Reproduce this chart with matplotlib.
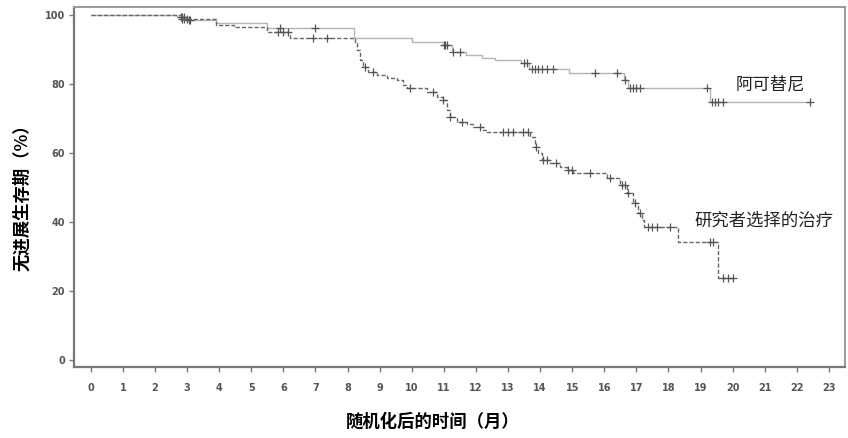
import numpy as np
import matplotlib.pyplot as plt

plt.rcParams['font.family'] = ['Noto Sans CJK SC', 'DejaVu Sans']

# 阿可替尼 - step times (months) and survival (%)
acala_t = [0, 2.7, 3.0, 3.9, 5.5, 8.2, 10.0, 11.0, 11.25, 11.7, 12.2, 12.6,
           13.4, 13.65, 14.9, 16.6, 16.75, 19.3, 22.4]
acala_s = [100, 99.3, 98.6, 97.6, 96.3, 93.3, 92.3, 91.3, 89.4, 88.4, 87.5, 87.0,
           86.1, 84.4, 83.1, 81.2, 78.8, 74.9, 74.9]
acala_cens = [2.8, 2.85, 2.9, 3.05, 3.1, 5.9, 7.0, 11.0, 11.05, 11.1, 11.3, 11.5,
              13.5, 13.6, 13.75, 13.85, 13.95, 14.05, 14.2, 14.4, 15.7, 16.4, 16.65,
              16.8, 16.9, 17.0, 17.1, 19.2, 19.35, 19.45, 19.55, 19.7, 22.4]

# 研究者选择的治疗
ctrl_t = [0, 2.8, 3.9, 4.45, 5.5, 6.2, 8.23, 8.29, 8.39, 8.48, 8.64, 8.92, 9.23,
          9.54, 9.73, 9.85, 10.48, 10.79, 10.97, 11.1, 11.19, 11.41, 11.72, 11.91,
          12.22, 12.35, 13.68, 13.84, 13.93, 14.06, 14.31, 14.62, 14.84, 15.03,
          16.08, 16.49, 16.7, 16.89, 17.05, 17.17, 17.25, 18.29, 19.54, 20.0]
ctrl_s = [100, 98.8, 97.1, 96.6, 95.2, 93.3, 92.0, 89.9, 87.0, 85.0, 83.5, 82.6, 81.7,
          81.2, 79.7, 78.8, 77.7, 76.2, 75.4, 72.5, 70.4, 69.0, 68.5, 67.5,
          66.7, 66.1, 64.6, 61.7, 60.0, 58.0, 57.1, 56.0, 55.1, 54.2,
          52.8, 50.7, 48.4, 45.5, 42.6, 40.6, 38.6, 34.2, 23.8, 23.8]
ctrl_cens = [2.85, 2.9, 3.0, 5.85, 6.0, 6.15, 6.93, 7.36, 8.55, 8.8, 9.95, 10.67,
             10.97, 11.2, 11.57, 12.13, 12.84, 13.0, 13.15, 13.47, 13.63, 13.86,
             14.1, 14.2, 14.5, 14.88, 15.0, 15.55, 16.17, 16.55, 16.65, 16.75,
             16.95, 17.1, 17.35, 17.5, 17.65, 18.05, 19.3, 19.38, 19.7, 19.85, 20.0]

x_ticks = list(range(0, 24))
y_ticks = [0, 20, 40, 60, 80, 100]


def value_at(times, surv, t):
    idx = np.searchsorted(times, t, side='right') - 1
    return np.array(surv)[idx]


fig = plt.figure(figsize=(8.48, 4.38), dpi=100)
ax = fig.add_axes([0.0873, 0.162, 0.9092, 0.822])

ax.step(acala_t, acala_s, where='post', color='#b4b4b4', lw=1.0)
ax.plot(acala_cens, value_at(acala_t, acala_s, acala_cens), '+', color='#555555',
        ms=6, mew=0.9)

ax.step(ctrl_t, ctrl_s, where='post', color='#666666', lw=1.0, ls=(0, (3, 1.5)))
ax.plot(ctrl_cens, value_at(ctrl_t, ctrl_s, ctrl_cens), '+', color='#555555',
        ms=6, mew=0.9)

ax.set_xlim(-0.52, 23.5)
ax.set_ylim(-2.0, 102.3)
ax.set_xticks(x_ticks)
ax.set_yticks(y_ticks)
ax.tick_params(axis='both', direction='out', length=3.5, width=1, color='#777777',
               labelsize=7, labelcolor='#555555', pad=8)
ax.tick_params(axis='y', pad=3)
for lab in ax.get_xticklabels() + ax.get_yticklabels():
    lab.set_fontweight('bold')
    lab.set_family('DejaVu Sans')

for side in ['left', 'bottom']:
    ax.spines[side].set_color('#777777')
    ax.spines[side].set_linewidth(1.6)
for side in ['top', 'right']:
    ax.spines[side].set_color('#999999')
    ax.spines[side].set_linewidth(1.4)

ax.text(20.1, 80, '阿可替尼', fontsize=12.5, color='#222222', va='center', ha='left')
ax.text(18.8, 40.5, '研究者选择的治疗', fontsize=12.5, color='#222222', va='center',
        ha='left')

fig.text(0.026, 0.56, '无进展生存期（%）', rotation=90, fontsize=12.5, fontweight='bold',
         ha='center', va='center')
fig.text(0.51, 0.015, '随机化后的时间（月）', fontsize=12.5, fontweight='bold',
         ha='center', va='bottom')

fig.savefig('out.png', dpi=100)
